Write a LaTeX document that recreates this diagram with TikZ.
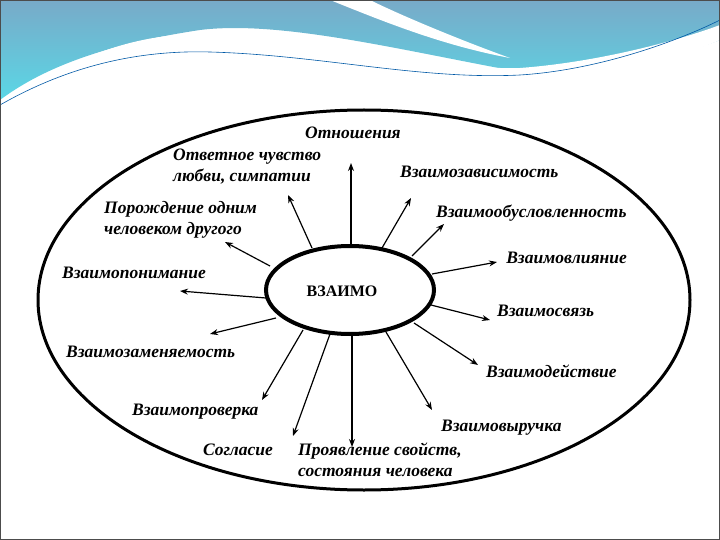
\documentclass[tikz,border=0pt]{standalone}
\usepackage{fontspec}
\setmainfont{Liberation Serif}
\usetikzlibrary{arrows.meta,shapes.geometric}
\definecolor{bannerA}{RGB}{120,170,200}
\definecolor{bannerB}{RGB}{90,215,230}
\begin{document}
\begin{tikzpicture}[x=1pt,y=-1pt,
  lbl/.style={font=\fontsize{17.5}{21}\selectfont\bfseries\itshape, inner sep=0pt, align=left},
  spoke/.style={line width=1.2pt,-{Stealth[length=8pt,width=6pt]}}]
\useasboundingbox (0,0) rectangle (720,540);
% banner
\shade[top color=bannerA, bottom color=bannerB] (0,0) -- (720,0) -- (720,40) .. controls (640,70) and (560,75) .. (520,72) .. controls (400,50) and (280,20) .. (200,30) .. controls (100,45) and (40,70) .. (0,100) -- cycle;
\fill[white] (0,110) .. controls (60,60) and (140,30) .. (210,35) .. controls (300,40) and (420,70) .. (520,68) .. controls (600,62) and (680,40) .. (720,25) -- (720,40) .. controls (650,70) and (570,80) .. (500,78) .. controls (400,75) and (300,50) .. (200,45) .. controls (120,45) and (50,80) .. (0,112) -- cycle;
\fill[white] (330,0) .. controls (380,20) and (440,45) .. (510,58) .. controls (460,40) and (400,15) .. (370,0) -- cycle;
\draw[teal!70!blue, line width=0.6pt] (0,105) .. controls (70,65) and (140,50) .. (210,52) .. controls (320,55) and (420,80) .. (520,75) .. controls (600,70) and (680,40) .. (720,20);
\draw[black!70, line width=0.8pt] (0.5,0.5) rectangle (719.5,539.5);
% ellipses
\draw[line width=3pt] (364,300) ellipse [x radius=326, y radius=190];
\node[draw, line width=4pt, ellipse, minimum width=168pt, minimum height=88pt] (c) at (350,290) {};
\node[font=\fontsize{16}{18}\selectfont\bfseries] (cl) at (342,291) {ВЗАИМО};
% coordinates
\coordinate (s1) at (351,246); \coordinate (t1) at (351,163);
\coordinate (s2) at (312,248); \coordinate (t2) at (288,195);
\coordinate (s3) at (382,248); \coordinate (t3) at (411,198);
\coordinate (s4) at (412,256); \coordinate (t4) at (444,224);
\coordinate (s5) at (270,266); \coordinate (t5) at (225,242);
\coordinate (s6) at (432,274); \coordinate (t6) at (497,262);
\coordinate (s7) at (266,298); \coordinate (t7) at (180,291);
\coordinate (s8) at (431,305); \coordinate (t8) at (490,320);
\coordinate (s9) at (276,318); \coordinate (t9) at (210,334);
\coordinate (s10) at (414,323); \coordinate (t10) at (478,365);
\coordinate (s11) at (303,330); \coordinate (t11) at (262,400);
\coordinate (s12) at (330,334); \coordinate (t12) at (293,436);
\coordinate (s13) at (352,335); \coordinate (t13) at (352,447);
\coordinate (s14) at (386,332); \coordinate (t14) at (432,410);
\foreach \i in {1,...,14} {\draw[spoke] (s\i) -- (t\i);}
% labels
\node[lbl] (l1) at (353,133) {Отношения};
\node[lbl, anchor=west] (l2) at (173,167) {Ответное чувство\\любви, симпатии};
\node[lbl, anchor=west] (l3) at (400,172) {Взаимозависимость};
\node[lbl, anchor=west] (l5) at (104,220) {Порождение одним\\человеком другого};
\node[lbl, anchor=west] (l4) at (436,213) {Взаимообусловленность};
\node[lbl, anchor=east] (l6) at (627,258) {Взаимовлияние};
\node[lbl, anchor=west] (l7) at (62,273) {Взаимопонимание};
\node[lbl, anchor=west] (l8) at (497,311) {Взаимосвязь};
\node[lbl, anchor=west] (l9) at (66,352) {Взаимозаменяемость};
\node[lbl, anchor=west] (l10) at (486,371) {Взаимодействие};
\node[lbl, anchor=west] (l11) at (132,412) {Взаимопроверка};
\node[lbl, anchor=west] (l14) at (441,428) {Взаимовыручка};
\node[lbl, anchor=west] (l12) at (203,450) {Согласие};
\node[lbl, anchor=west] (l13) at (298,460) {Проявление свойств,\\состояния человека};
\end{tikzpicture}
\end{document}
